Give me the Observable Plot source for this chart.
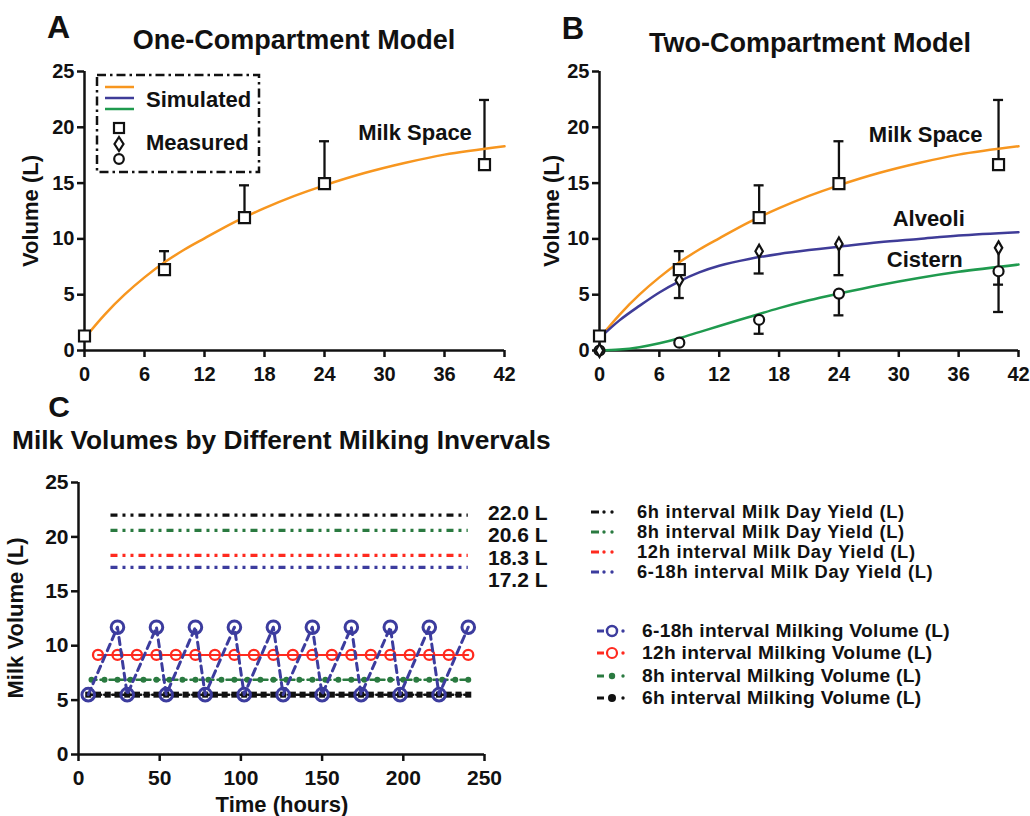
<!DOCTYPE html>
<html><head><meta charset="utf-8">
<script src="https://cdn.jsdelivr.net/npm/d3@7"></script>
<script src="https://cdn.jsdelivr.net/npm/@observablehq/plot@0.6"></script>
<style>
body{margin:0;background:#fff;}
#root{position:relative;width:1030px;height:816px;background:#fff;font-family:"Liberation Sans",Arial,sans-serif;font-weight:bold;color:#111;overflow:hidden}
.abs{position:absolute;white-space:nowrap;line-height:1}
.c{transform:translate(-50%,-50%)}
.l{transform:translate(0,-50%)}
.v{transform:translate(-50%,-50%) rotate(-90deg)}
</style></head><body><div id="root"></div>
<script>
// ---------- DATA ----------
const xTicksAB = [0, 6, 12, 18, 24, 30, 36, 42];
const yTicksAB = [0, 5, 10, 15, 20, 25];
const xTicksC = [0, 50, 100, 150, 200, 250];
const yTicksC = [0, 5, 10, 15, 20, 25];

// simulated curves (hours, litres)
const curveT       = [0, 2, 4, 6, 8, 10, 12, 15, 18, 21, 24, 28, 32, 36, 42];
const milkSpaceSim = [1.1, 3.2, 5.0, 6.55, 7.9, 9.05, 10.05, 11.5, 12.75, 13.85, 14.8, 15.9, 16.8, 17.55, 18.3];
const alveoliSim   = [1.1, 2.7, 4.0, 5.2, 6.2, 7.0, 7.6, 8.2, 8.65, 9.0, 9.3, 9.7, 10.0, 10.3, 10.6];
const cisternSim   = [0, 0.08, 0.3, 0.65, 1.1, 1.65, 2.2, 3.0, 3.8, 4.5, 5.1, 5.85, 6.5, 7.05, 7.7];

// measured points with one-sided error bars
const measT          = [0, 8, 16, 24, 40];
const milkSpaceMeas  = [1.3, 7.25, 11.9, 14.95, 16.65];
const milkSpaceUpper = [null, 8.9, 14.8, 18.75, 22.45];
const alveoliMeas    = [0, 6.3, 8.9, 9.55, 9.2];
const alveoliLower   = [null, 4.7, 6.9, 6.75, 5.9];
const cisternMeas    = [0, 0.7, 2.75, 5.1, 7.1];
const cisternLower   = [null, null, 1.5, 3.15, 3.45];

const annotA = [{label: "Milk Space", t: 33.05, v: 19.5}];
const annotB = [{label: "Milk Space", t: 32.7, v: 19.3}, {label: "Alveoli", t: 33.0, v: 11.8}, {label: "Cistern", t: 32.6, v: 8.1}];

// panel C
const yieldNames  = ["6h interval Milk Day Yield (L)", "8h interval Milk Day Yield (L)", "12h interval Milk Day Yield (L)", "6-18h interval Milk Day Yield (L)"];
const yieldValues = [22.0, 20.6, 18.3, 17.2];
const yieldSpan   = [20, 240];

const t6h  = [6,12,18,24,30,36,42,48,54,60,66,72,78,84,90,96,102,108,114,120,126,132,138,144,150,156,162,168,174,180,186,192,198,204,210,216,222,228,234,240];
const v6h  = [5.5,5.5,5.5,5.5,5.5,5.5,5.5,5.5,5.5,5.5,5.5,5.5,5.5,5.5,5.5,5.5,5.5,5.5,5.5,5.5,5.5,5.5,5.5,5.5,5.5,5.5,5.5,5.5,5.5,5.5,5.5,5.5,5.5,5.5,5.5,5.5,5.5,5.5,5.5,5.5];
const t8h  = [8,16,24,32,40,48,56,64,72,80,88,96,104,112,120,128,136,144,152,160,168,176,184,192,200,208,216,224,232,240];
const v8h  = [6.87,6.87,6.87,6.87,6.87,6.87,6.87,6.87,6.87,6.87,6.87,6.87,6.87,6.87,6.87,6.87,6.87,6.87,6.87,6.87,6.87,6.87,6.87,6.87,6.87,6.87,6.87,6.87,6.87,6.87];
const t12h = [12,24,36,48,60,72,84,96,108,120,132,144,156,168,180,192,204,216,228,240];
const v12h = [9.15,9.15,9.15,9.15,9.15,9.15,9.15,9.15,9.15,9.15,9.15,9.15,9.15,9.15,9.15,9.15,9.15,9.15,9.15,9.15];
const t618 = [6,24,30,48,54,72,78,96,102,120,126,144,150,168,174,192,198,216,222,240];
const v618 = [5.5,11.7,5.5,11.7,5.5,11.7,5.5,11.7,5.5,11.7,5.5,11.7,5.5,11.7,5.5,11.7,5.5,11.7,5.5,11.7];
const milkingNames = ["6-18h interval Milking Volume (L)", "12h interval Milking Volume (L)", "8h interval Milking Volume (L)", "6h interval Milking Volume (L)"];

// ---------- STYLE ----------
const ink = "#111111";
const cOrange = "#f7961f", cBlue = "#3f3c98", cGreen = "#1f9a4e";
const cBlueC = "#3c3c9e", cRedC = "#ff2a1f", cGreenC = "#2a7a40";
const yieldColors = [ink, cGreenC, cRedC, cBlueC];
const FONT = '"Liberation Sans", Arial, sans-serif';

const root = document.getElementById("root");
function label(txt, x, y, size, mode, spacing) {
  const d = document.createElement("div");
  d.className = "abs " + (mode || "c");
  d.style.left = x + "px"; d.style.top = y + "px"; d.style.fontSize = size + "px";
  if (spacing) d.style.letterSpacing = spacing + "px";
  d.textContent = txt; root.appendChild(d); return d;
}
function place(svg, left, top) {
  svg.style.position = "absolute"; svg.style.left = left + "px"; svg.style.top = top + "px";
  root.appendChild(svg);
}
const zip = (ts, vs) => ts.map((t, i) => ({t, v: vs[i]}));

function axisMarks(xt, yt, xPad, fs) {
  return [
    Plot.axisX({ticks: xt, tickSize: 7, tickPadding: xPad, strokeWidth: 2.5, label: null, fontSize: fs, fontWeight: "bold"}),
    Plot.axisY({ticks: yt, tickSize: 7, tickPadding: 3, strokeWidth: 2.5, label: null, fontSize: fs, fontWeight: "bold"}),
    Plot.ruleX([0], {stroke: ink, strokeWidth: 2.5}),
    Plot.ruleY([0], {stroke: ink, strokeWidth: 2.5})
  ];
}

function abPanel(width, marginLeft, marginRight, sims, meas, annots) {
  const marks = [...axisMarks(xTicksAB, yTicksAB, 9, 20)];
  for (const m of meas) {
    const bars = measT.map((t, i) => ({t, v: m.values[i], b: m.bound[i]})).filter(d => d.b != null);
    marks.push(Plot.ruleX(bars, {x: "t", y1: "v", y2: "b", stroke: ink, strokeWidth: 2.3}));
    marks.push(Plot.ruleY(bars, {y: "b", x1: "t", x2: "t", insetLeft: -5, insetRight: -5, stroke: ink, strokeWidth: 2.3}));
  }
  for (const s of sims) {
    marks.push(Plot.line(zip(curveT, s.values), {x: "t", y: "v", stroke: s.color, strokeWidth: 2.5, curve: "catmull-rom"}));
  }
  for (const m of meas) {
    marks.push(Plot.dot(zip(measT, m.values), {x: "t", y: "v", symbol: m.symbol, r: m.r, fill: "white", stroke: ink, strokeWidth: 2.2}));
  }
  marks.push(Plot.text(annots, {x: "t", y: "v", text: "label", fontSize: 22, fontWeight: "bold", fill: ink}));
  return Plot.plot({
    width, height: 380, marginLeft, marginRight, marginTop: 71, marginBottom: 30,
    style: {fontFamily: FONT, fontSize: "20px", fontWeight: "bold", color: ink, background: "transparent", overflow: "visible"},
    x: {domain: [0, 42]}, y: {domain: [0, 25]},
    marks
  });
}

// ---------- PANEL A ----------
const svgA = abPanel(520, 84, 16,
  [{values: milkSpaceSim, color: cOrange}],
  [{values: milkSpaceMeas, bound: milkSpaceUpper, symbol: "square", r: 6.2}],
  annotA);
place(svgA, 0, 0);

// ---------- PANEL B ----------
const svgB = abPanel(510, 79, 12,
  [{values: milkSpaceSim, color: cOrange}, {values: alveoliSim, color: cBlue}, {values: cisternSim, color: cGreen}],
  [{values: cisternMeas, bound: cisternLower, symbol: "circle", r: 5},
   {values: alveoliMeas, bound: alveoliLower, symbol: "diamond", r: 3.9},
   {values: milkSpaceMeas, bound: milkSpaceUpper, symbol: "square", r: 6.2}],
  annotB);
place(svgB, 520, 0);

// ---------- PANEL C ----------
const marksC = [...axisMarks(xTicksC, yTicksC, 9, 21)];
yieldValues.forEach((v, i) => {
  marksC.push(Plot.ruleY([v], {x1: yieldSpan[0], x2: yieldSpan[1], stroke: yieldColors[i], strokeWidth: 3.2, strokeDasharray: "7,5,3,5,3,5"}));
});
marksC.push(
  Plot.line(zip(t6h, v6h), {x: "t", y: "v", stroke: ink, strokeWidth: 2.5, strokeDasharray: "5,3"}),
  Plot.dot(zip(t6h, v6h), {x: "t", y: "v", symbol: "square", r: 3.4, fill: ink}),
  Plot.line(zip(t8h, v8h), {x: "t", y: "v", stroke: cGreenC, strokeWidth: 2.5, strokeDasharray: "5,4"}),
  Plot.dot(zip(t8h, v8h), {x: "t", y: "v", r: 3, fill: cGreenC}),
  Plot.line(zip(t12h, v12h), {x: "t", y: "v", stroke: cRedC, strokeWidth: 2}),
  Plot.dot(zip(t12h, v12h), {x: "t", y: "v", r: 5, fill: "none", stroke: cRedC, strokeWidth: 2.3}),
  Plot.line(zip(t618, v618), {x: "t", y: "v", stroke: cBlueC, strokeWidth: 3, strokeDasharray: "7,5"}),
  Plot.dot(zip(t618, v618), {x: "t", y: "v", r: 6.3, fill: "none", stroke: cBlueC, strokeWidth: 3})
);
const svgC = Plot.plot({
  width: 520, height: 436, marginLeft: 78, marginRight: 36, marginTop: 102, marginBottom: 62,
  style: {fontFamily: FONT, fontSize: "21px", fontWeight: "bold", color: ink, background: "transparent", overflow: "visible"},
  x: {domain: [0, 250]}, y: {domain: [0, 25]},
  marks: marksC
});
place(svgC, 0, 380);

// ---------- TEXT ----------
label("A", 58.5, 27, 32);
label("One-Compartment Model", 294, 40, 27);
label("B", 573, 27.5, 31);
label("Two-Compartment Model", 810, 43, 27);
label("Volume (L)", 31, 210.5, 22, "v");
label("Volume (L)", 551.5, 210.5, 22, "v");
label("C", 59, 407, 30);
label("Milk Volumes by Different Milking Invervals", 12, 440, 26.3, "l");
label("Milk Volume (L)", 16, 618, 22, "v");
label("Time (hours)", 282, 805, 22);

// yield value labels
yieldValues.forEach((v, i) => label(`${v.toFixed(1)} L`, 488, 512 + i * 22.3, 21, "l"));

// ---------- LEGEND A ----------
const NS = "http://www.w3.org/2000/svg";
function svgEl(w, h, left, top, inner) {
  const s = document.createElementNS(NS, "svg");
  s.setAttribute("width", w); s.setAttribute("height", h);
  s.style.position = "absolute"; s.style.left = left + "px"; s.style.top = top + "px"; s.style.overflow = "visible";
  s.innerHTML = inner; root.appendChild(s); return s;
}
const simColors = [cOrange, cBlue, cGreen];
let legA = `<rect x="1" y="1" width="162" height="97" fill="white" stroke="${ink}" stroke-width="2.5" stroke-dasharray="9,4,2.5,4"/>`;
simColors.forEach((c, i) => { legA += `<line x1="9" x2="38" y1="${13 + i * 11}" y2="${13 + i * 11}" stroke="${c}" stroke-width="2.5"/>`; });
legA += `<rect x="18" y="49" width="10" height="10" fill="white" stroke="${ink}" stroke-width="2.2"/>`;
legA += `<path d="M23,63 L27.5,70 L23,77 L18.5,70 Z" fill="white" stroke="${ink}" stroke-width="2.2"/>`;
legA += `<circle cx="23" cy="85" r="4.8" fill="white" stroke="${ink}" stroke-width="2.2"/>`;
svgEl(164, 99, 96, 74, legA);
label("Simulated", 146, 100, 22, "l");
label("Measured", 146, 143, 22, "l");

// ---------- LEGEND C ----------
yieldNames.forEach((name, i) => {
  const y = 512 + i * 20;
  const c = yieldColors[i];
  svgEl(30, 10, 591, y - 5, `<line x1="0" x2="8" y1="5" y2="5" stroke="${c}" stroke-width="3"/><circle cx="13" cy="5" r="1.7" fill="${c}"/><circle cx="21" cy="5" r="1.7" fill="${c}"/>`);
  label(name, 637, y, 18.3, "l", 0.7);
});
const milkingMarkers = [
  c => `<circle cx="15" cy="7" r="5" fill="none" stroke="${c}" stroke-width="2.5"/>`,
  c => `<circle cx="15" cy="7" r="5" fill="none" stroke="${c}" stroke-width="2.2"/>`,
  c => `<circle cx="15" cy="7" r="3.2" fill="${c}"/>`,
  c => `<circle cx="15" cy="7" r="4" fill="${c}"/>`
];
const milkingColors = [cBlueC, cRedC, cGreenC, ink];
milkingNames.forEach((name, i) => {
  const y = 631 + i * 22.3;
  const c = milkingColors[i];
  svgEl(32, 14, 597, y - 7, `<line x1="0" x2="7" y1="7" y2="7" stroke="${c}" stroke-width="3"/>${milkingMarkers[i](c)}<circle cx="26" cy="7" r="1.7" fill="${c}"/>`);
  label(name, 642, y, 19.2, "l", 0.3);
});
</script></body></html>
